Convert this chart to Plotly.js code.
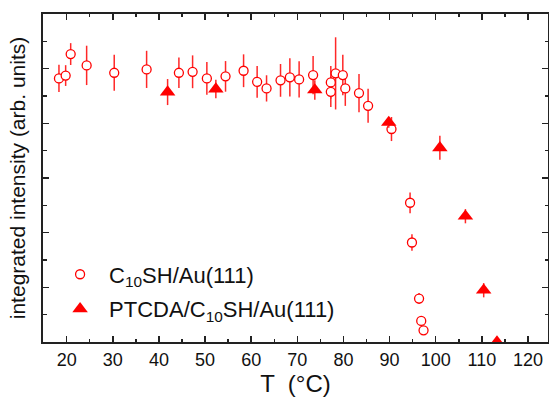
<!DOCTYPE html>
<html>
<head>
<meta charset="utf-8">
<script src="https://cdn.plot.ly/plotly-3.0.1.min.js"></script>
<style>html,body{margin:0;padding:0;background:#fff;}#chart{width:549px;height:401px;}</style>
</head>
<body>
<div id="chart"></div>
<script>
// C10SH/Au(111)
const c10T   = [18.33, 19.78, 20.87, 24.33, 30.31, 37.33, 44.33, 47.30, 50.39, 54.44, 58.35, 61.29, 63.33, 66.36, 68.38, 70.39, 73.42, 77.26, 77.26, 78.30, 79.86, 80.40, 83.37, 85.34, 90.41, 94.44, 94.85, 96.39, 96.86, 97.36];
const c10I   = [4.822, 4.874, 5.267, 5.06, 4.925, 4.987, 4.925, 4.943, 4.822, 4.859, 4.962, 4.76, 4.639, 4.786, 4.841, 4.804, 4.883, 4.749, 4.577, 4.914, 4.883, 4.639, 4.553, 4.321, 3.896, 2.547, 1.82, 0.795, 0.385, 0.214];
const c10Err = [0.25, 0.19, 0.20, 0.36, 0.33, 0.34, 0.28, 0.30, 0.30, 0.28, 0.30, 0.29, 0.24, 0.30, 0.35, 0.33, 0.35, 0.30, 0.28, 0.66, 0.37, 0.32, 0.35, 0.31, 0.22, 0.19, 0.15, 0.10, 0.08, 0.08];
// PTCDA/C10SH/Au(111)
const ptT   = [41.88, 52.34, 73.79, 89.82, 100.9, 106.44, 110.4, 113.28];
const ptI   = [4.572, 4.627, 4.610, 4.017, 3.552, 2.301, 0.947, 0.0];
const ptErr = [0.238, 0.168, 0.18, 0.10, 0.22, 0.13, 0.13, 0.05];

const seriesNames = ['C<sub>10</sub>SH/Au(111)', 'PTCDA/C<sub>10</sub>SH/Au(111)'];
const xTicks = [20, 30, 40, 50, 60, 70, 80, 90, 100, 110, 120];

const traces = [
  {
    x: c10T, y: c10I, name: seriesNames[0], type: 'scatter', mode: 'markers',
    legendgroup: 'a',
    marker: {symbol: 'circle', size: 9, color: '#ffffff', line: {color: '#ff0000', width: 1.3}},
    error_y: {type: 'data', array: c10Err, visible: true, color: '#ff2828', thickness: 1.5, width: 0}
  },
  {
    x: ptT, y: ptI, name: seriesNames[1], type: 'scatter', mode: 'markers',
    legendgroup: 'b',
    marker: {symbol: 'triangle-up', size: 13.5, color: '#ff0000', line: {width: 0}},
    error_y: {type: 'data', array: ptErr, visible: true, color: '#ff2828', thickness: 1.5, width: 0}
  }
];

const axisCommon = {
  showline: true, linecolor: '#222', linewidth: 2, mirror: 'ticks',
  ticks: 'inside', tickcolor: '#222', tickwidth: 1.5,
  showgrid: false, zeroline: false
};

const layout = {
  width: 549, height: 401,
  margin: {l: 43, r: 1, t: 14, b: 59, pad: 0},
  paper_bgcolor: '#ffffff', plot_bgcolor: '#ffffff',
  font: {family: '"Liberation Sans", Arial, sans-serif', color: '#111'},
  showlegend: true,
  legend: {
    x: 0.016, y: 0.27, xanchor: 'left', yanchor: 'top',
    bgcolor: 'rgba(0,0,0,0)', borderwidth: 0,
    font: {size: 22, color: '#111'}, itemwidth: 48, tracegroupgap: 3
  },
  xaxis: Object.assign({}, axisCommon, {
    range: [14.87, 124.34], tickvals: xTicks, ticktext: xTicks.map(String), ticklen: 6,
    minor: {dtick: 5, tick0: 0, ticks: 'inside', ticklen: 3, tickcolor: '#222', tickwidth: 1.5},
    tickfont: {size: 18, color: '#111'},
    title: {text: 'T  (°C)', font: {size: 24, color: '#111'}, standoff: 7}
  }),
  yaxis: Object.assign({}, axisCommon, {
    range: [0, 6], dtick: 1, tick0: 0, ticklen: 6, showticklabels: false,
    minor: {dtick: 0.5, tick0: 0, ticks: 'inside', ticklen: 3.5, tickcolor: '#222', tickwidth: 1.5},
    title: {text: 'integrated intensity (arb. units)', font: {size: 21, color: '#111'}, standoff: 10}
  })
};

Plotly.newPlot('chart', traces, layout, {displayModeBar: false, staticPlot: true});
</script>
</body>
</html>
